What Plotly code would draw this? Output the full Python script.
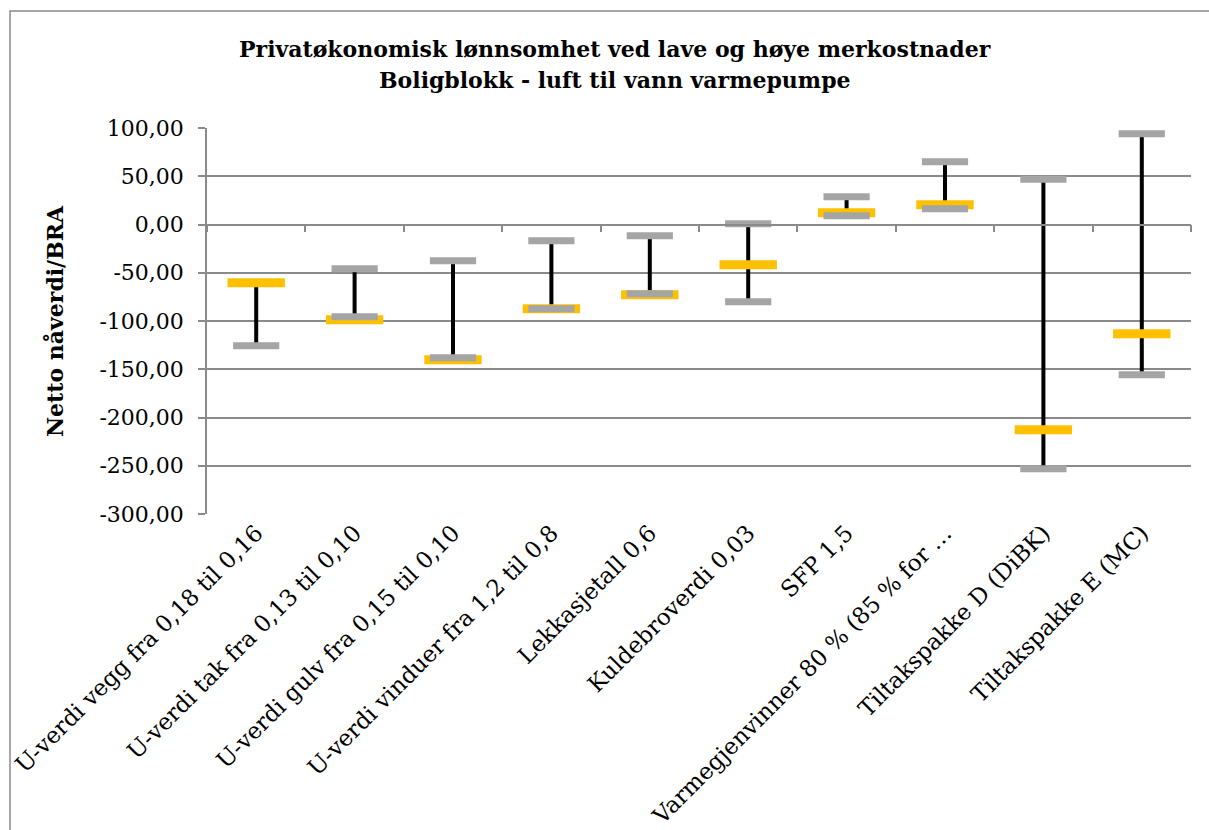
import plotly.graph_objects as go

# Categories (measures) and their net present value per BRA
kategorier = [
    "U-verdi vegg fra 0,18 til 0,16",
    "U-verdi tak fra 0,13 til 0,10",
    "U-verdi gulv fra 0,15 til 0,10",
    "U-verdi vinduer fra 1,2 til 0,8",
    "Lekkasjetall 0,6",
    "Kuldebroverdi 0,03",
    "SFP 1,5",
    "Varmegjenvinner 80 % (85 % for …",
    "Tiltakspakke D (DiBK)",
    "Tiltakspakke E (MC)",
]
verdi_topp = [None, -45.9, -37.6, -16.9, -11.7, 0.7, 28.7, 65.0, 46.9, 94.0]
verdi_bunn = [-125.7, -95.7, -138.1, -87.4, -71.8, -80.1, 9.0, 16.3, -253.2, -155.8]
verdi_slutt = [-60.4, -98.8, -140.2, -87.4, -72.9, -41.8, 12.1, 20.4, -212.8, -113.3]

y_tick_verdier = [100, 50, 0, -50, -100, -150, -200, -250, -300]
y_tick_tekst = ["100,00", "50,00", "0,00", "-50,00", "-100,00", "-150,00",
                "-200,00", "-250,00", "-300,00"]

W, H = 1209, 830
ML, MR, MT, MB = 207, 18, 128, 316
GRID = "#8a8a8a"
SERIF = "DejaVu Serif"

# High-low lines: span from lowest to highest value in each category
hl_x, hl_y = [], []
for k, a, b, c in zip(kategorier, verdi_topp, verdi_bunn, verdi_slutt):
    vals = [v for v in (a, b, c) if v is not None]
    hl_x += [k, k, None]
    hl_y += [min(vals), max(vals), None]

fig = go.Figure()
fig.add_trace(go.Scatter(x=hl_x, y=hl_y, mode="lines",
                         line=dict(color="black", width=4),
                         hoverinfo="skip", showlegend=False))
fig.add_trace(go.Scatter(x=kategorier, y=verdi_slutt, mode="markers",
                         marker=dict(symbol="line-ew", size=41,
                                     line=dict(color="#FFC000", width=9)),
                         showlegend=False))
for serie in (verdi_topp, verdi_bunn):
    fig.add_trace(go.Scatter(x=kategorier, y=serie, mode="markers",
                             marker=dict(symbol="line-ew", size=33,
                                         line=dict(color="#A5A5A5", width=7)),
                             showlegend=False))

# Invisible trace carrying the zero-level category axis
fig.add_trace(go.Scatter(x=kategorier, y=[None] * len(kategorier),
                         xaxis="x2", mode="markers", showlegend=False,
                         hoverinfo="skip"))

fig.update_layout(
    width=W, height=H,
    margin=dict(l=ML, r=MR, t=MT, b=MB, autoexpand=False),
    paper_bgcolor="white", plot_bgcolor="white",
    font=dict(family=SERIF, size=20, color="black"),
    xaxis=dict(type="category", categoryorder="array", categoryarray=kategorier,
               range=[-0.5, len(kategorier) - 0.5],
               showgrid=False, showline=False, zeroline=False, ticks="",
               tickangle=-45, tickfont=dict(family=SERIF, size=23),
               automargin=False),
    xaxis2=dict(type="category", categoryorder="array", categoryarray=kategorier,
                range=[-0.5, len(kategorier) - 0.5], overlaying="x",
                anchor="free", position=0.75, side="bottom",
                showline=True, linecolor=GRID, linewidth=1.5,
                ticks="outside", ticklen=7, tickwidth=1.5, tickcolor=GRID,
                tickson="boundaries", showticklabels=False, showgrid=False,
                zeroline=False),
    yaxis=dict(range=[-300, 100], tickvals=y_tick_verdier, ticktext=y_tick_tekst,
               showgrid=True, gridcolor=GRID, gridwidth=1.5,
               showline=True, linecolor=GRID, linewidth=1.5,
               ticks="outside", ticklen=7, tickwidth=1.5, tickcolor=GRID,
               ticklabelstandoff=10,
               zeroline=False, tickfont=dict(family=SERIF, size=22),
               automargin=False),
    showlegend=False,
)

pw = W - ML - MR
ph = H - MT - MB

def px(x):
    return (x - ML) / pw

def py(y):
    return (H - MB - y) / ph

fig.add_annotation(text="<b>Privatøkonomisk lønnsomhet ved lave og høye merkostnader</b>",
                   x=px(615), y=py(49), xref="paper", yref="paper",
                   showarrow=False, font=dict(family=SERIF, size=22),
                   xanchor="center", yanchor="middle")
fig.add_annotation(text="<b>Boligblokk - luft til vann varmepumpe</b>",
                   x=px(615), y=py(80), xref="paper", yref="paper",
                   showarrow=False, font=dict(family=SERIF, size=22),
                   xanchor="center", yanchor="middle")
fig.add_annotation(text="<b>Netto nåverdi/BRA</b>", textangle=-90,
                   x=px(55), y=0.5, xref="paper", yref="paper",
                   showarrow=False, font=dict(family=SERIF, size=22),
                   xanchor="center", yanchor="middle")

# Chart frame
fig.add_shape(type="rect", xref="paper", yref="paper",
              x0=px(10), y0=-1.2, x1=1.2, y1=py(11),
              line=dict(color=GRID, width=1.5), layer="below")

fig.write_html("out.html")
